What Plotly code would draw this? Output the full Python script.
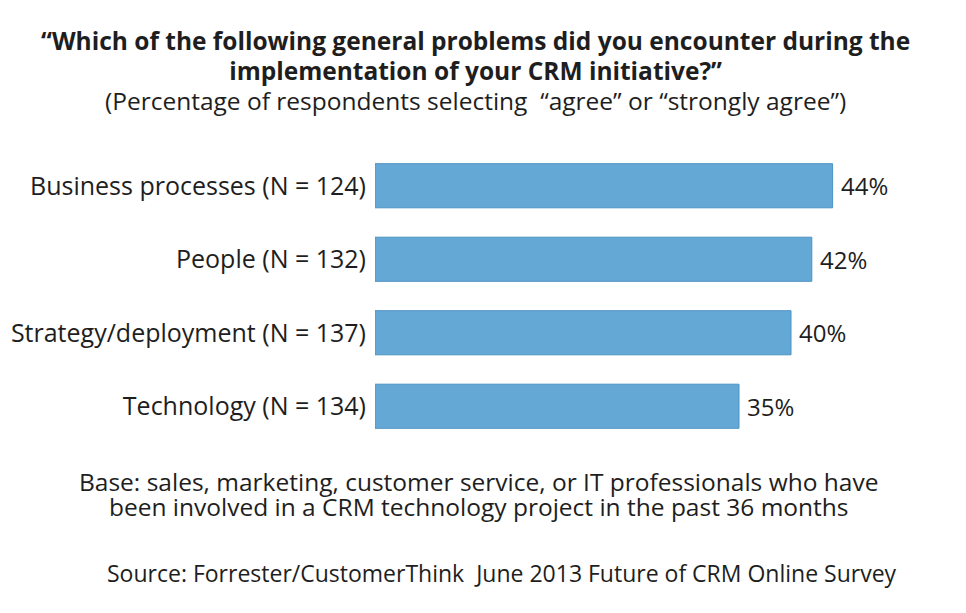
import plotly.graph_objects as go

categories = ["Business processes (N = 124)", "People (N = 132)",
              "Strategy/deployment (N = 137)", "Technology (N = 134)"]
values = [44, 42, 40, 35]
value_labels = ["44%", "42%", "40%", "35%"]

title_line1 = "“Which of the following general problems did you encounter during the"
title_line2 = "implementation of your CRM initiative?”"
subtitle = "(Percentage of respondents selecting  “agree” or “strongly agree”)"
base_note1 = "Base: sales, marketing, customer service, or IT professionals who have"
base_note2 = "been involved in a CRM technology project in the past 36 months"
source_note = "Source: Forrester/CustomerThink  June 2013 Future of CRM Online Survey"

FONT = "Open Sans, sans-serif"
TXT = "#1e1e1e"

fig = go.Figure(go.Bar(
    x=values, y=categories, orientation="h",
    marker=dict(color="#64A9D6", line=dict(color="#4C92C3", width=1)),
    hoverinfo="x+y",
))

for v, lab, cat in zip(values, value_labels, categories):
    fig.add_annotation(x=v, y=cat, text=lab, xanchor="left", yanchor="middle",
                       xshift=6, showarrow=False,
                       font=dict(family=FONT, size=24, color=TXT))

W, H = 966, 613
ml, mr, mt, mb = 375, 71, 149, 613 - 443

fig.update_layout(
    width=W, height=H,
    margin=dict(l=ml, r=mr, t=mt, b=mb),
    paper_bgcolor="white", plot_bgcolor="white",
    bargap=0.4, showlegend=False,
    font=dict(family=FONT, color=TXT),
    xaxis=dict(range=[0, 50], visible=False, fixedrange=True),
    yaxis=dict(autorange="reversed", showgrid=False, zeroline=False,
               showline=False, ticks="", ticklabelstandoff=8,
               tickfont=dict(family=FONT, size=25, color=TXT)),
)


def paper_x(px):
    return (px - ml) / (W - ml - mr)


def paper_y(py):
    return (H - mb - py) / (H - mt - mb)


def block(lines, y_center, line_px, text_px, x_center, bold_flags):
    parts = []
    for line, b in zip(lines, bold_flags):
        s = f"<span style='font-size:{text_px}px'>{line}</span>"
        parts.append(f"<b>{s}</b>" if b else s)
    fig.add_annotation(
        text="<br>".join(parts),
        xref="paper", yref="paper", x=paper_x(x_center), y=paper_y(y_center),
        xanchor="center", yanchor="middle", showarrow=False, borderpad=0,
        font=dict(family=FONT, size=line_px / 1.3, color=TXT),
    )


block([title_line1, title_line2, subtitle], 71, 30, 24.5, 475, [True, True, False])
block([base_note1, base_note2], 494, 25, 24.5, 478, [False, False])
block([source_note], 573, 29.9, 23, 502, [False])

fig.write_html("out.html")
